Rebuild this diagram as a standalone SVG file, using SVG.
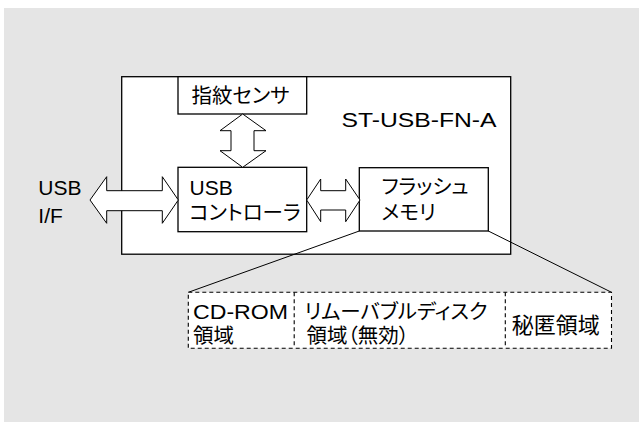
<svg xmlns="http://www.w3.org/2000/svg" width="639" height="422" viewBox="0 0 639 422">
<style>
.box{fill:#fff;stroke:#000;stroke-width:1.3}
.dash{fill:#fff;stroke:#000;stroke-width:1.1;stroke-dasharray:4 3}
.arr{fill:#fff;stroke:#000;stroke-width:1}
.ln{stroke:#000;stroke-width:1;fill:none}
text{font-family:"Liberation Sans","Noto Sans CJK JP",sans-serif;fill:#000;font-size:20px}
.lat{font-size:21px}
.jp{font-family:"Noto Sans CJK JP",sans-serif;font-feature-settings:"palt";font-size:20.5px}
.l21{font-family:"Liberation Sans",sans-serif;font-size:21px}
</style>
<rect x="0" y="0" width="639" height="422" fill="#fff"/>
<rect x="4" y="8" width="635" height="414" fill="#e5e5e5"/>
<g id="device">
<rect class="box" x="121.7" y="76.7" width="389" height="177.5"/>
<text class="lat" x="341.5" y="127.3" textLength="155" lengthAdjust="spacingAndGlyphs">ST-USB-FN-A</text>
</g>
<g id="sensor">
<rect class="box" x="178" y="76.7" width="128.7" height="37.3"/>
<text class="jp" x="191.5" y="103">指紋センサ</text>
</g>
<g id="controller">
<rect class="box" x="178" y="167.3" width="128.7" height="64.4"/>
<text class="jp" x="189.5" y="194.5"><tspan class="l21">USB</tspan><tspan x="189.3" y="220">コントローラ</tspan></text>
</g>
<g id="flash">
<rect class="box" x="359.3" y="167.7" width="129" height="63.3"/>
<text class="jp" x="381.5" y="194">フラッシュ<tspan x="381.5" y="220">メモリ</tspan></text>
</g>
<g id="usbif">
<text class="lat" x="38.3" y="195">USB<tspan x="38.3" y="223">I/F</tspan></text>
</g>
<g id="connectors">
<polygon class="arr" points="242.7,114 266,130.7 254,130.7 254,150.7 266,150.7 242.7,167.3 220,150.7 231,150.7 231,130.7 220,130.7"/>
<polygon class="arr" points="90,200 106.7,176.7 106.7,190.7 162.3,190.7 162.3,176.7 178.3,200 162.3,223.3 162.3,210.7 106.7,210.7 106.7,223.3"/>
<polygon class="arr" points="306.7,200 320.7,179 320.7,190.7 345.7,190.7 345.7,179 360,200 345.7,221.7 345.7,210 320.7,210 320.7,221.7"/>
<line class="ln" x1="359.3" y1="231" x2="188.3" y2="292.3"/>
<line class="ln" x1="488.3" y1="231" x2="611.5" y2="292.3"/>
</g>
<g id="areas">
<rect class="dash" x="188.3" y="292.3" width="423.2" height="56"/>
<line class="dash" x1="294.2" y1="292.3" x2="294.2" y2="348.3"/>
<line class="dash" x1="505.3" y1="292.3" x2="505.3" y2="348.3"/>
</g>
<g id="cdrom">
<text class="jp" x="193" y="319.3"><tspan style="font-family:'Liberation Sans',sans-serif;font-size:20px" textLength="95" lengthAdjust="spacingAndGlyphs">CD-ROM</tspan><tspan x="193" y="342.5">領域</tspan></text>
</g>
<g id="removable">
<text class="jp" x="304.5" y="319.3">リムーバブルディスク<tspan x="306.5" y="342.5">領域（無効）</tspan></text>
</g>
<g id="secret">
<text class="jp" x="511.7" y="333" style="font-size:22px">秘匿領域</text>
</g>
</svg>
